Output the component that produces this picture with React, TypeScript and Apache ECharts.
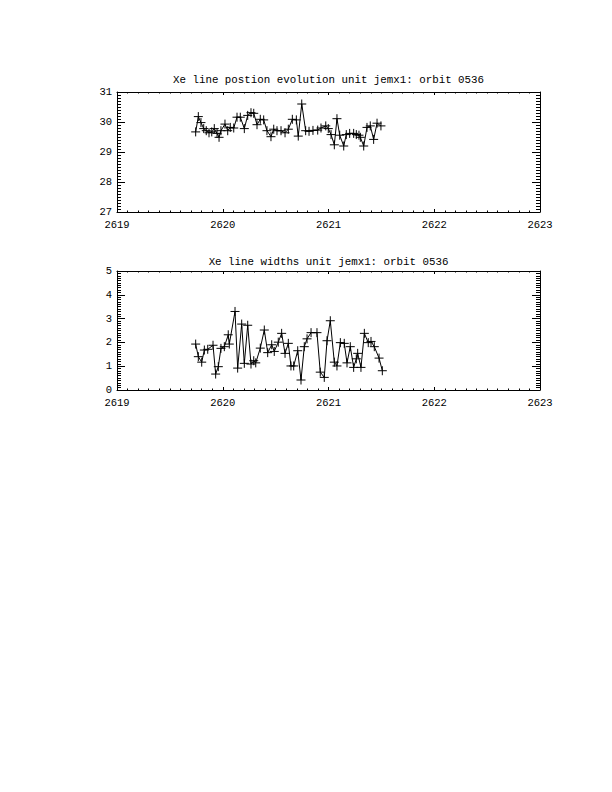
import React, { useEffect, useRef } from "react";
import * as echarts from "echarts";

const xTicks = [2619, 2620, 2621, 2622, 2623];
const posTitle = "Xe line postion evolution unit jemx1: orbit 0536";
const widthTitle = "Xe line widths unit jemx1: orbit 0536";

const posTime = [
  2619.744, 2619.769, 2619.794, 2619.82, 2619.844, 2619.87, 2619.896, 2619.92, 2619.946, 2619.965,
  2619.983, 2620.021, 2620.047, 2620.071, 2620.104, 2620.135, 2620.166, 2620.204, 2620.236, 2620.267,
  2620.293, 2620.324, 2620.355, 2620.387, 2620.418, 2620.456, 2620.482, 2620.513, 2620.551, 2620.589,
  2620.62, 2620.658, 2620.696, 2620.714, 2620.747, 2620.784, 2620.816, 2620.853, 2620.898, 2620.929,
  2620.974, 2620.998, 2621.024, 2621.055, 2621.08, 2621.106, 2621.144, 2621.168, 2621.2, 2621.238,
  2621.263, 2621.288, 2621.301, 2621.333, 2621.364, 2621.395, 2621.427, 2621.459, 2621.496,
];
const posValue = [
  29.67, 30.18, 29.98, 29.78, 29.71, 29.64, 29.67, 29.78, 29.62, 29.49,
  29.71, 29.93, 29.71, 29.82, 29.8, 30.16, 30.16, 29.78, 30.22, 30.31,
  30.29, 29.91, 30.09, 30.07, 29.71, 29.51, 29.76, 29.71, 29.71, 29.64,
  29.76, 30.09, 30.07, 29.53, 30.6, 29.71, 29.69, 29.72, 29.73, 29.8,
  29.87, 29.78, 29.58, 29.24, 30.11, 29.56, 29.2, 29.58, 29.62, 29.62,
  29.58, 29.56, 29.49, 29.2, 29.82, 29.87, 29.42, 29.96, 29.87,
];

const widthTime = [
  2619.744, 2619.769, 2619.801, 2619.826, 2619.858, 2619.908, 2619.933, 2619.958, 2619.983, 2620.015,
  2620.052, 2620.062, 2620.116, 2620.141, 2620.179, 2620.204, 2620.236, 2620.267, 2620.293, 2620.312,
  2620.355, 2620.393, 2620.425, 2620.463, 2620.487, 2620.525, 2620.557, 2620.589, 2620.62, 2620.645,
  2620.671, 2620.709, 2620.74, 2620.771, 2620.797, 2620.835, 2620.891, 2620.922, 2620.96, 2620.986,
  2621.017, 2621.055, 2621.08, 2621.112, 2621.149, 2621.175, 2621.206, 2621.238, 2621.263, 2621.276,
  2621.307, 2621.339, 2621.376, 2621.402, 2621.433, 2621.478, 2621.509,
];
const widthValue = [
  1.93, 1.4, 1.17, 1.68, 1.71, 1.88, 0.67, 0.98, 1.75, 1.82,
  2.32, 1.93, 3.3, 0.92, 2.77, 1.12, 2.72, 1.09, 1.23, 1.14,
  1.76, 2.52, 1.57, 1.9, 1.62, 2.01, 2.38, 1.54, 1.96, 1.01,
  1.01, 1.65, 0.42, 1.82, 2.15, 2.41, 2.41, 0.75, 0.53, 2.07,
  2.91, 1.17, 1.01, 1.99, 1.96, 1.14, 1.82, 0.95, 1.31, 1.54,
  0.95, 2.38, 1.99, 2.04, 1.82, 1.34, 0.81,
];

const FONT = "Liberation Mono";
const PLUS = "path://M0,4L8,4M4,0L4,8";

function xAxisPair(gridIndex: number) {
  const base = {
    type: "value" as const,
    gridIndex,
    min: xTicks[0],
    max: xTicks[xTicks.length - 1],
    interval: 1,
    axisLine: { show: true, onZero: false, lineStyle: { color: "#000", width: 1 } },
    axisTick: { show: true, inside: true, length: 3, lineStyle: { color: "#000" } },
    minorTick: { show: true, splitNumber: 10, length: 1.5, lineStyle: { color: "#000" } },
    splitLine: { show: false },
  };
  return [
    {
      ...base,
      position: "bottom",
      axisLabel: {
        show: true,
        color: "#000",
        fontFamily: FONT,
        fontSize: 10.5,
        margin: 7,
        formatter: (v: number) => String(v),
      },
    },
    { ...base, position: "top", axisLabel: { show: false } },
  ];
}

function yAxisPair(gridIndex: number, min: number, max: number) {
  const base = {
    type: "value" as const,
    gridIndex,
    min,
    max,
    interval: 1,
    axisLine: { show: true, onZero: false, lineStyle: { color: "#000", width: 1 } },
    axisTick: { show: true, inside: true, length: 8, lineStyle: { color: "#000" } },
    minorTick: { show: true, splitNumber: 10, length: 4, lineStyle: { color: "#000" } },
    splitLine: { show: false },
  };
  return [
    {
      ...base,
      position: "left",
      axisLabel: {
        show: true,
        color: "#000",
        fontFamily: FONT,
        fontSize: 10.5,
        margin: 5,
        formatter: (v: number) => String(v),
      },
    },
    { ...base, position: "right", axisLabel: { show: false } },
  ];
}

function lineSeries(xs: number[], ys: number[], axisBase: number) {
  return {
    type: "line" as const,
    xAxisIndex: axisBase,
    yAxisIndex: axisBase,
    data: xs.map((x, i) => [x, ys[i]]),
    symbol: PLUS,
    symbolSize: 9,
    showSymbol: true,
    lineStyle: { color: "#000", width: 1 },
    itemStyle: { color: "#000", borderColor: "#000", borderWidth: 1 },
    emphasis: { disabled: true },
  };
}

export default function App() {
  const ref = useRef<HTMLDivElement>(null);
  useEffect(() => {
    if (!ref.current) return;
    const chart = echarts.init(ref.current, undefined, { renderer: "svg" });
    chart.setOption({
      animation: false,
      backgroundColor: "#fff",
      grid: [
        { left: 117, top: 92, width: 423, height: 120 },
        { left: 117, top: 271, width: 423, height: 119 },
      ],
      xAxis: [...xAxisPair(0), ...xAxisPair(1)],
      yAxis: [...yAxisPair(0, 27, 31), ...yAxisPair(1, 0, 5)],
      series: [lineSeries(posTime, posValue, 0), lineSeries(widthTime, widthValue, 2)],
      graphic: [
        {
          type: "text",
          x: 328.5,
          y: 80,
          style: {
            text: posTitle,
            fill: "#000",
            font: `10.8px "${FONT}"`,
            textAlign: "center",
            textVerticalAlign: "middle",
          },
        },
        {
          type: "text",
          x: 328.5,
          y: 262,
          style: {
            text: widthTitle,
            fill: "#000",
            font: `10.8px "${FONT}"`,
            textAlign: "center",
            textVerticalAlign: "middle",
          },
        },
      ],
    });
    return () => chart.dispose();
  }, []);
  return (
    <div
      ref={ref}
      style={{ position: "absolute", left: 0, top: 0, width: 612, height: 792, background: "#fff" }}
    />
  );
}
